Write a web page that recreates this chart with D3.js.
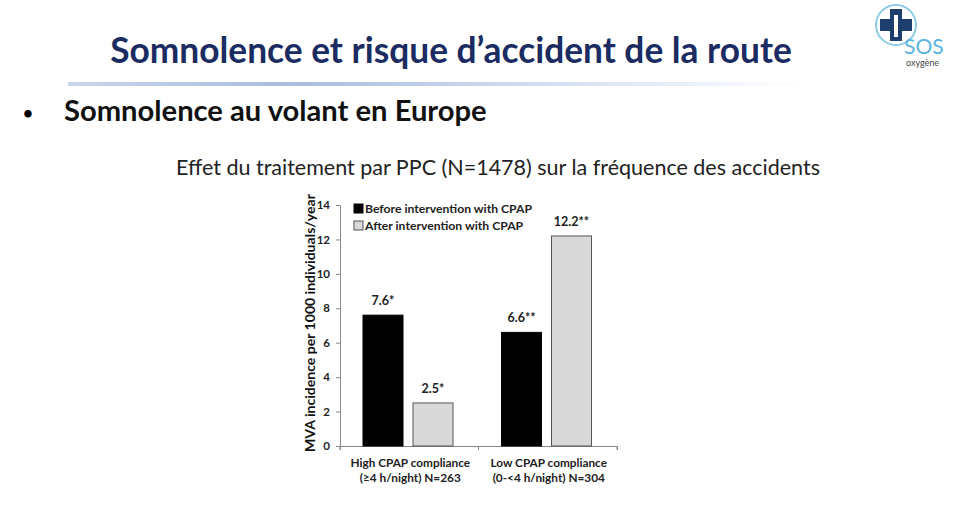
<!DOCTYPE html>
<html>
<head>
<meta charset="utf-8">
<script src="https://cdn.jsdelivr.net/npm/d3@7"></script>
<style>
  body { margin: 0; background: #fff; }
  text { font-family: Lato, "Open Sans", sans-serif; }
</style>
</head>
<body>
<script>
var w = 960;
var h = 510;

//Data
var groups = ["High CPAP compliance|(\u22654 h/night) N=263", "Low CPAP compliance|(0-<4 h/night) N=304"];
var series = ["Before intervention with CPAP", "After intervention with CPAP"];
var before = [7.6, 6.6];
var after = [2.5, 12.2];
var valueLabels = [["7.6*", "2.5*"], ["6.6**", "12.2**"]];
var yTicks = [0, 2, 4, 6, 8, 10, 12, 14];

var svg = d3.select("body")
  .append("svg")
  .attr("width", w)
  .attr("height", h);

//fit a text element to a target width
function fit(sel, target) {
  var len = sel.node().getComputedTextLength();
  var fs = parseFloat(sel.attr("font-size"));
  sel.attr("font-size", fs * target / len);
}

//Header
var defs = svg.append("defs");
var grad = defs.append("linearGradient").attr("id", "rule");
grad.append("stop").attr("offset", "0%").attr("stop-color", "#c9d5ea");
grad.append("stop").attr("offset", "30%").attr("stop-color", "#a9bde0");
grad.append("stop").attr("offset", "100%").attr("stop-color", "#ffffff");

var title = svg.append("text")
  .attr("x", 451).attr("y", 63)
  .attr("text-anchor", "middle")
  .attr("font-size", 30).attr("font-weight", "bold")
  .attr("fill", "#1a2c62")
  .text("Somnolence et risque d\u2019accident de la route");
fit(title, 682);

svg.append("rect")
  .attr("x", 68).attr("y", 82).attr("width", 740).attr("height", 4)
  .attr("fill", "url(#rule)");

svg.append("text")
  .attr("x", 23).attr("y", 119)
  .attr("font-size", 17).attr("font-weight", "bold")
  .text("\u2022");
var sub = svg.append("text")
  .attr("x", 64).attr("y", 121)
  .attr("font-size", 24).attr("font-weight", "bold")
  .attr("fill", "#111")
  .text("Somnolence au volant en Europe");
fit(sub, 423);

var cap = svg.append("text")
  .attr("x", 176).attr("y", 175)
  .attr("font-size", 19)
  .attr("fill", "#222")
  .text("Effet du traitement par PPC (N=1478) sur la fr\u00e9quence des accidents");
fit(cap, 644);

//Logo
var logo = svg.append("g").attr("transform", "translate(896,25)");
logo.append("circle").attr("r", 20).attr("fill", "none").attr("stroke", "#8fcbe6").attr("stroke-width", 2);
logo.append("rect").attr("x", -16).attr("y", -6).attr("width", 32).attr("height", 12).attr("fill", "#1e3f6e");
logo.append("rect").attr("x", -6).attr("y", -16).attr("width", 12).attr("height", 32).attr("fill", "#1e3f6e");
logo.append("rect").attr("x", -2).attr("y", -10).attr("width", 4).attr("height", 22).attr("fill", "#ffffff");
svg.append("text").attr("x", 904).attr("y", 54)
  .attr("font-size", 21).attr("fill", "#5ab4de")
  .attr("font-family", "'Open Sans', sans-serif")
  .text("SOS");
svg.append("text").attr("x", 906).attr("y", 66)
  .attr("font-size", 9).attr("fill", "#444")
  .text("oxyg\u00e8ne");

//Chart
var x0 = 340, x1 = 617, y0 = 446, y1 = 205;
var x = d3.scaleBand().domain(d3.range(groups.length)).range([x0, x1]).paddingInner(0).paddingOuter(0);
var xs = d3.scaleBand().domain([0, 1]).range([23, 113]).paddingInner(0.2);
var y = d3.scaleLinear().domain([0, 14]).range([y0, y1]);

var chart = svg.append("g");

var yAxis = chart.append("g")
  .attr("transform", "translate(" + x0 + ",0)")
  .call(d3.axisLeft(y).tickValues(yTicks).tickSize(4).tickPadding(6));
yAxis.select(".domain").attr("stroke", "#888");
yAxis.selectAll(".tick line").attr("stroke", "#888");
yAxis.selectAll("text").attr("font-size", 11.5).attr("font-weight", "bold").attr("fill", "#222")
  .attr("font-family", "Lato, sans-serif");

var xAxis = chart.append("g")
  .attr("transform", "translate(0," + y0 + ")")
  .call(d3.axisBottom(x).tickSize(4).tickFormat(""));
xAxis.select(".domain").attr("stroke", "#888");
xAxis.selectAll(".tick line").attr("stroke", "#888").attr("transform", "translate(" + (-x.bandwidth() / 2) + ",0)");
//extra tick at end
xAxis.append("line").attr("x1", x1).attr("x2", x1).attr("y1", 0).attr("y2", 4).attr("stroke", "#888");

var data = [];
groups.forEach(function(g, i) {
  data.push({ g: i, s: 0, v: before[i], label: valueLabels[i][0] });
  data.push({ g: i, s: 1, v: after[i], label: valueLabels[i][1] });
});

chart.selectAll("rect.bar")
  .data(data)
  .enter()
  .append("rect")
  .attr("class", "bar")
  .attr("x", function(d) { return x(d.g) + xs(d.s); })
  .attr("y", function(d) { return y(d.v); })
  .attr("width", xs.bandwidth())
  .attr("height", function(d) { return y0 - y(d.v); })
  .attr("fill", function(d) { return d.s === 0 ? "#000" : "#d9d9d9"; })
  .attr("stroke", function(d) { return d.s === 0 ? "#000" : "#555"; })
  .attr("stroke-width", 1);

chart.selectAll("text.val")
  .data(data)
  .enter()
  .append("text")
  .attr("class", "val")
  .attr("x", function(d) { return x(d.g) + xs(d.s) + xs.bandwidth() / 2; })
  .attr("y", function(d) { return y(d.v) - 10; })
  .attr("text-anchor", "middle")
  .attr("font-size", 12.5).attr("font-weight", "bold").attr("fill", "#222")
  .text(function(d) { return d.label; });

//Category labels
groups.forEach(function(g, i) {
  var lines = g.split("|");
  lines.forEach(function(l, j) {
    chart.append("text")
      .attr("x", x(i) + x.bandwidth() / 2 + 1)
      .attr("y", 467 + j * 15)
      .attr("text-anchor", "middle")
      .attr("font-size", 11.8).attr("font-weight", "bold").attr("fill", "#222")
      .text(l);
  });
});

//Y title
var yt = chart.append("text")
  .attr("transform", "translate(315,323) rotate(-90)")
  .attr("text-anchor", "middle")
  .attr("font-size", 12).attr("font-weight", "bold").attr("fill", "#111")
  .text("MVA incidence per  1000 individuals/year");
fit(yt, 258);

//Legend
var legend = chart.selectAll("g.leg")
  .data(series)
  .enter()
  .append("g")
  .attr("class", "leg")
  .attr("transform", function(d, i) { return "translate(354," + (204 + i * 17) + ")"; });
legend.append("rect")
  .attr("width", 9).attr("height", 9)
  .attr("fill", function(d, i) { return i === 0 ? "#000" : "#d9d9d9"; })
  .attr("stroke", function(d, i) { return i === 0 ? "#000" : "#555"; });
legend.append("text")
  .attr("x", 11).attr("y", 9)
  .attr("font-size", 12.2).attr("font-weight", "bold").attr("fill", "#222")
  .text(function(d) { return d; });
</script>
</body>
</html>
